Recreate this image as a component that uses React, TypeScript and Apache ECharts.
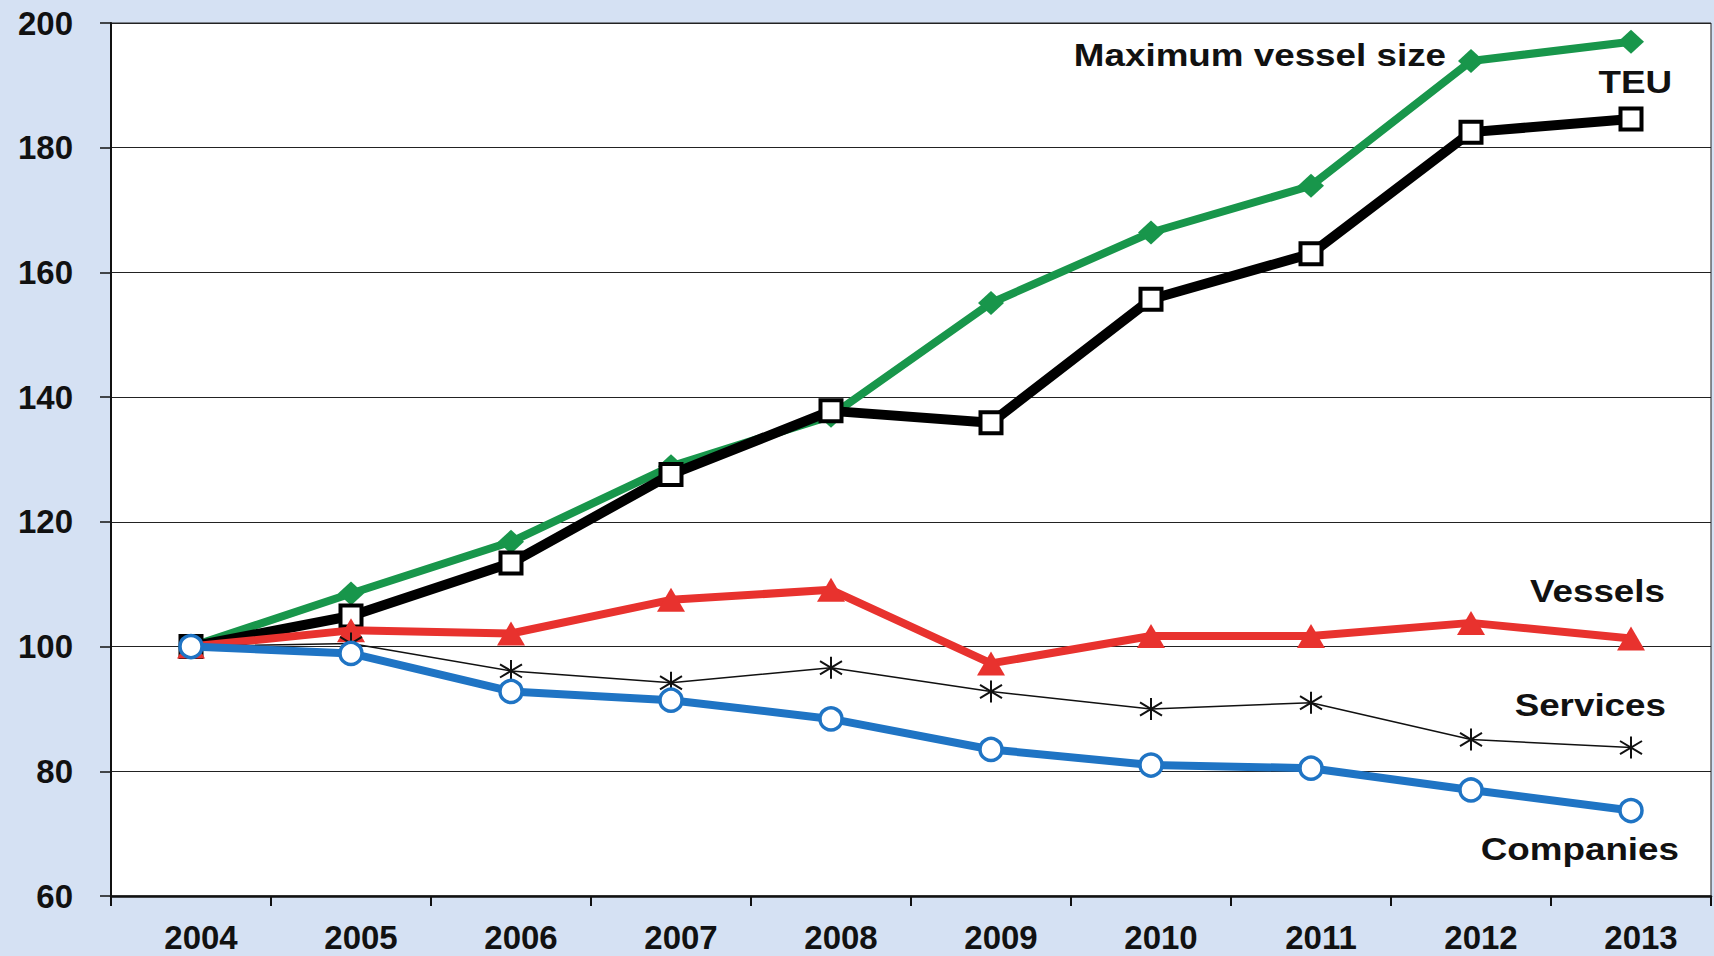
import React, { useEffect, useRef } from "react";
import * as echarts from "echarts";

const years = ["2004", "2005", "2006", "2007", "2008", "2009", "2010", "2011", "2012", "2013"];
const maxVesselSize = [100, 108.5, 116.8, 128.9, 137.0, 155.1, 166.4, 173.9, 193.9, 197.0];
const teu = [100, 104.9, 113.4, 127.6, 137.8, 135.9, 155.7, 163.0, 182.5, 184.6];
const vessels = [100, 102.6, 102.1, 107.5, 109.1, 97.3, 101.7, 101.7, 103.8, 101.3];
const services = [100, 100.5, 96.1, 94.2, 96.6, 92.8, 90.0, 91.0, 85.1, 83.8];
const companies = [100, 98.9, 92.8, 91.4, 88.4, 83.5, 81.0, 80.5, 77.0, 73.7];

const FONT = "Liberation Sans, Arial, Helvetica, sans-serif";
const ASTERISK = "path://M0,-10 L0,10 M-9,-6 L9,6 M-9,6 L9,-6";

export default function App() {
  const ref = useRef<HTMLDivElement>(null);
  useEffect(() => {
    if (!ref.current) return;
    const chart = echarts.init(ref.current, undefined, { renderer: "svg" });
    const label = (text: string, x: number, y: number) => ({
      type: "text",
      x,
      y,
      scaleX: 1.15,
      z: 100,
      style: {
        text,
        fill: "#111",
        font: `bold 32px ${FONT}`,
        textAlign: "right",
        textVerticalAlign: "middle",
      },
    });
    chart.setOption({
      animation: false,
      backgroundColor: "#d5e1f3",
      grid: {
        left: 111,
        right: 3,
        top: 23,
        bottom: 60,
        show: true,
        backgroundColor: "#ffffff",
        borderColor: "#222",
        borderWidth: 1,
      },
      xAxis: {
        type: "category",
        data: years,
        boundaryGap: true,
        axisLine: { show: true, lineStyle: { color: "#111", width: 2.5 } },
        axisTick: { show: true, length: 10, inside: false, lineStyle: { color: "#111", width: 2 } },
        axisLabel: {
          color: "#111",
          fontFamily: FONT,
          fontWeight: "bold",
          fontSize: 33,
          margin: 25,
          padding: [0, 0, 0, 20],
        },
        splitLine: { show: false },
      },
      yAxis: {
        type: "value",
        min: 60,
        max: 200,
        interval: 20,
        axisLine: { show: true, lineStyle: { color: "#111", width: 2 } },
        axisTick: { show: true, length: 11, lineStyle: { color: "#111", width: 1.5 } },
        axisLabel: {
          color: "#111",
          fontFamily: FONT,
          fontWeight: "bold",
          fontSize: 33,
          margin: 38,
        },
        splitLine: { show: true, lineStyle: { color: "#222", width: 1.2 } },
      },
      series: [
        {
          name: "Maximum vessel size",
          type: "line",
          data: maxVesselSize,
          symbol: "diamond",
          symbolSize: [26, 24],
          lineStyle: { color: "#18964b", width: 8 },
          itemStyle: { color: "#18964b" },
          z: 2,
        },
        {
          name: "TEU",
          type: "line",
          data: teu,
          symbol: "rect",
          symbolSize: 21,
          lineStyle: { color: "#000", width: 10 },
          itemStyle: { color: "#fff", borderColor: "#000", borderWidth: 4 },
          z: 3,
        },
        {
          name: "Vessels",
          type: "line",
          data: vessels,
          symbol: "triangle",
          symbolSize: [28, 24],
          lineStyle: { color: "#e8322e", width: 8 },
          itemStyle: { color: "#e8322e" },
          z: 4,
        },
        {
          name: "Services",
          type: "line",
          data: services,
          symbol: ASTERISK,
          symbolSize: 22,
          showAllSymbol: true,
          lineStyle: { color: "#111", width: 1.5 },
          itemStyle: { color: "rgba(0,0,0,0)", borderColor: "#111", borderWidth: 2 },
          z: 5,
        },
        {
          name: "Companies",
          type: "line",
          data: companies,
          symbol: "circle",
          symbolSize: 22,
          lineStyle: { color: "#1f74c4", width: 8 },
          itemStyle: { color: "#fff", borderColor: "#1f74c4", borderWidth: 3.5 },
          z: 6,
        },
      ],
      graphic: [
        label("Maximum vessel size", 1446, 55),
        label("TEU", 1672, 82),
        label("Vessels", 1665, 591),
        label("Services", 1666, 705),
        label("Companies", 1679, 849),
      ],
    });
    return () => chart.dispose();
  }, []);
  return (
    <div
      ref={ref}
      style={{ position: "absolute", left: 0, top: 0, width: 1714, height: 956 }}
    />
  );
}
